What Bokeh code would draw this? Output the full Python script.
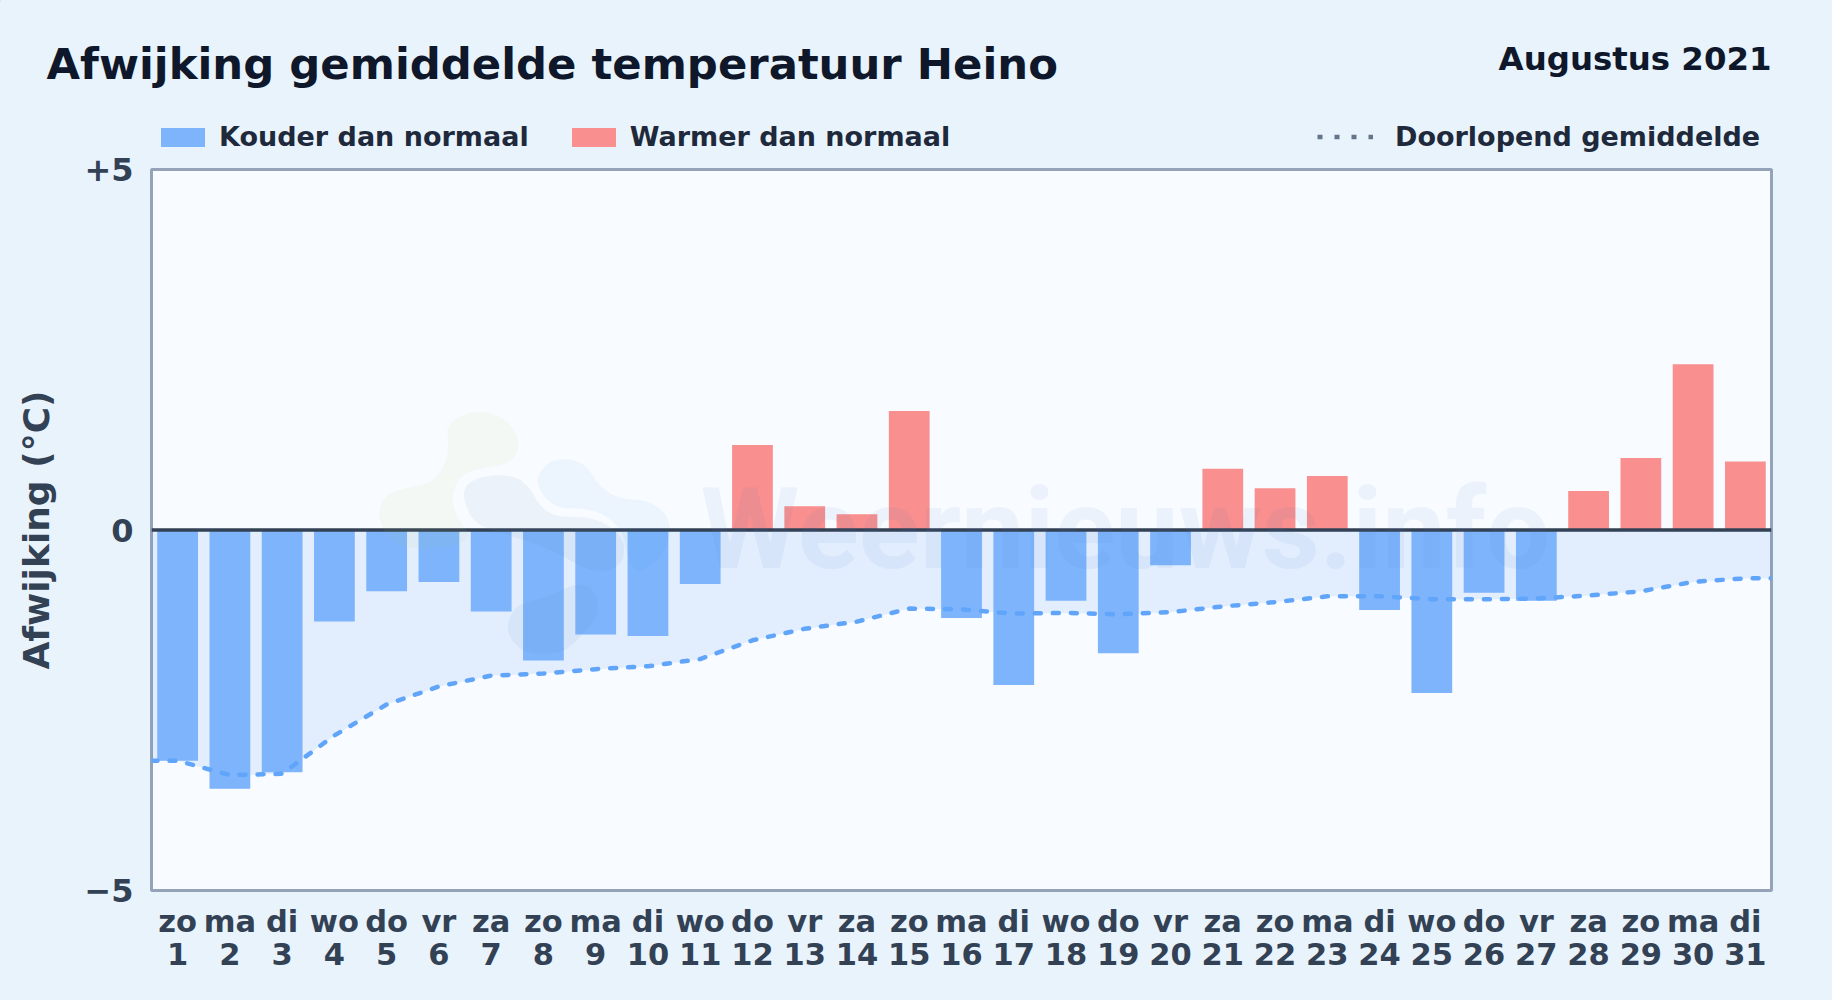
from bokeh.embed import file_html
from bokeh.layouts import column
from bokeh.resources import INLINE
from bokeh.plotting import figure
from bokeh.models import (FixedTicker, Label, Legend, LegendItem, LinearAxis,
                          PolyAnnotation, Range1d, Span)

weekdays = ["zo","ma","di","wo","do","vr","za","zo","ma","di","wo","do","vr","za","zo","ma",
            "di","wo","do","vr","za","zo","ma","di","wo","do","vr","za","zo","ma","di"]
days = list(range(1, 32))
deviation = [-3.20,-3.59,-3.36,-1.27,-0.85,-0.72,-1.13,-1.81,-1.45,-1.47,-0.75,1.18,0.33,0.22,1.65,-1.22,
             -2.15,-0.98,-1.71,-0.49,0.85,0.58,0.75,-1.11,-2.26,-0.87,-0.98,0.54,1.00,2.30,0.95]
running_x = [0.5] + days + [31.5]
running_mean = [-3.20,-3.20,-3.40,-3.38,-2.85,-2.42,-2.17,-2.02,-1.99,-1.93,-1.89,-1.79,-1.53,-1.37,-1.27,-1.09,
                -1.10,-1.16,-1.15,-1.17,-1.14,-1.06,-1.00,-0.92,-0.92,-0.96,-0.96,-0.95,-0.91,-0.85,-0.72,-0.67,-0.67]
zero_line = [0.0] * len(running_x)

BG = "#e8f3fc"
BLUE = "#7db4fc"
RED = "#f98f8f"
neg_x = [d for d, v in zip(days, deviation) if v < 0]
neg_v = [v for v in deviation if v < 0]
pos_x = [d for d, v in zip(days, deviation) if v >= 0]
pos_v = [v for v in deviation if v >= 0]

# ---- header: title, month and legends
HEAD_H = 155
OVERLAP = 10
head = figure(width=1832, height=HEAD_H, min_border=0, toolbar_location=None, output_backend="svg",
              x_range=Range1d(0, 1832), y_range=Range1d(HEAD_H, 0), x_axis_location=None, y_axis_location=None,
              background_fill_color=BG, border_fill_color=BG, outline_line_color=None, frame_align=False,
              styles={"background-color": BG})
head.grid.visible = False

def hlabel(text, x, y, size, align="left"):
    head.add_layout(Label(x=x, y=y, text=text, text_font="DejaVu Sans", text_font_style="bold",
                          text_font_size=size, text_color="#0f172a", text_align=align,
                          text_baseline="alphabetic"))

hlabel("Afwijking gemiddelde temperatuur Heino", 46, 63.6, "43.35px")
hlabel("Augustus 2021", 1771, 58.3, "32.4px", align="right")

# legend keys only: these sit outside the visible range
leg_neg = head.vbar(x=[-100], top=[1], bottom=[0], width=1, fill_color=BLUE, line_color=None)
leg_pos = head.vbar(x=[-100], top=[1], bottom=[0], width=1, fill_color=RED, line_color=None)
leg_run = head.line([-100, -90], [1, 1], line_color="#64748b", line_width=4.5, line_dash="5 12")

def legend(items, x, y, gw, gh, standoff):
    head.add_layout(Legend(items=items, orientation="horizontal", location=(x, y), margin=0, padding=0,
                           background_fill_alpha=0, border_line_color=None, glyph_width=gw, glyph_height=gh,
                           label_standoff=standoff, spacing=37, label_text_font="DejaVu Sans",
                           label_text_font_style="bold", label_text_font_size="27px",
                           label_text_color="#1e293b"), "center")

legend([LegendItem(label="Kouder dan normaal", renderers=[leg_neg]),
        LegendItem(label="Warmer dan normaal", renderers=[leg_pos])], 155, 3, 55, 24, 9)
legend([LegendItem(label="Doorlopend gemiddelde", renderers=[leg_run])], 1317, 3, 56, 19, 22)

# ---- chart
p = figure(frame_width=1620, frame_height=721, min_border_left=151, min_border_right=61,
           min_border_top=169 - HEAD_H + OVERLAP, min_border_bottom=110, toolbar_location=None, output_backend="svg",
           x_range=Range1d(0.5, 31.5), y_range=Range1d(-5, 5), x_axis_location=None,
           background_fill_color="#f8fbff", border_fill_color=None,
           outline_line_color="#94a3b8", outline_line_width=3, frame_align=False,
           margin=(-OVERLAP, 0, 0, 0))
p.grid.visible = False

p.varea(x=running_x, y1=running_mean, y2=zero_line, fill_color="#3b82f6", fill_alpha=0.11)
p.vbar(x=neg_x, top=0, bottom=neg_v, width=0.78, fill_color=BLUE, line_color=None)
p.vbar(x=pos_x, top=pos_v, bottom=0, width=0.78, fill_color=RED, line_color=None)
p.add_layout(Span(location=0, dimension="width", line_color="#334155", line_width=3.5))
p.line(running_x, running_mean, line_color="#60a5fa", line_width=4.5, line_dash="6 12", line_cap="round")

xa = LinearAxis(ticker=FixedTicker(ticks=days),
                major_label_overrides={d: w for d, w in zip(days, weekdays)})
xb = LinearAxis(ticker=FixedTicker(ticks=days),
                major_label_overrides={d: str(d) for d in days})
p.add_layout(xa, "below")
p.add_layout(xb, "below")
ya = p.yaxis[0]
ya.ticker = FixedTicker(ticks=[-5, 0, 5])
ya.major_label_overrides = {-5: "\u22125", 0: "0", 5: "+5"}
ya.axis_label = "Afwijking (\u00b0C)"
ya.axis_label_text_font = "DejaVu Sans"
ya.axis_label_text_font_style = "bold"
ya.axis_label_text_font_size = "36px"
ya.axis_label_text_color = "#334155"
ya.axis_label_standoff = 24
for ax, sz in ((xa, "30.5px"), (xb, "30.5px"), (ya, "32px")):
    ax.axis_line_color = None
    ax.major_tick_line_color = None
    ax.minor_tick_line_color = None
    ax.major_label_text_font = "DejaVu Sans"
    ax.major_label_text_font_style = "bold"
    ax.major_label_text_font_size = sz
    ax.major_label_text_color = "#334155"
xa.major_label_standoff = 7
xb.major_label_standoff = -5
ya.major_label_standoff = 12

# ---- faint watermark over the plot area (coordinates relative to this figure's canvas)
OFFSET_Y = HEAD_H - OVERLAP

def chaikin(pts, n=3):
    for _ in range(n):
        out = []
        for i in range(len(pts)):
            a, b = pts[i], pts[(i + 1) % len(pts)]
            out.append((0.75 * a[0] + 0.25 * b[0], 0.75 * a[1] + 0.25 * b[1]))
            out.append((0.25 * a[0] + 0.75 * b[0], 0.25 * a[1] + 0.75 * b[1]))
        pts = out
    return pts

def blob(crop_pts, color, alpha):
    pts = chaikin([(360 + x / 3, 400 - OFFSET_Y + y / 3) for x, y in crop_pts])
    p.add_layout(PolyAnnotation(xs=[a for a, _ in pts], ys=[b for _, b in pts],
                                xs_units="canvas", ys_units="canvas", fill_color=color, fill_alpha=alpha,
                                line_alpha=0, level="overlay", editable=False))

blob([(50,345),(70,285),(130,262),(210,250),(255,195),(265,125),(257,80),(300,43),(370,30),(445,60),(482,130),
      (455,187),(390,200),(330,210),(290,240),(272,295),(290,350),(340,420),(200,450),(90,430)], "#a3c95a", 0.06)
blob([(305,290),(320,245),(390,222),(470,228),(510,265),(540,320),(590,350),(670,348),(730,365),(775,400),(795,440),
      (780,500),(700,520),(560,440),(430,400),(340,370)], "#5f86b5", 0.08)
blob([(438,670),(470,610),(560,590),(640,550),(700,560),(720,640),(650,720),(600,760),(500,760),(450,720)], "#5f86b5", 0.08)
blob([(530,230),(560,185),(620,172),(680,195),(710,250),(770,295),(860,298),(920,340),(932,400),(905,470),(830,520),(800,470),
      (790,400),(740,345),(670,322),(600,325),(560,300),(535,265)], "#38a0f0", 0.06)
p.add_layout(Label(x=700, y=565 - OFFSET_Y - 36, x_units="canvas", y_units="canvas", text="Weernieuws.info",
                   text_font="Roboto", text_font_style="bold", text_font_size="113px", text_color="#4a7fc0",
                   text_baseline="alphabetic", text_alpha=0.07, level="overlay"))

page = column(head, p, spacing=0, styles={"position": "fixed", "left": "0", "top": "0", "background-color": BG})
open("out.html", "w").write(file_html(page, INLINE))
